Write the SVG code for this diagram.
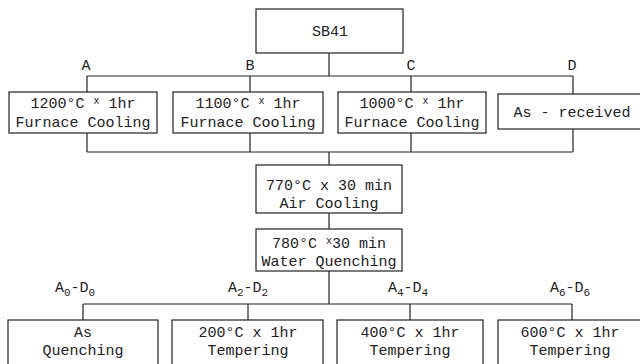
<svg xmlns="http://www.w3.org/2000/svg" width="640" height="364" viewBox="0 0 640 364">
<style>
.box{fill:#fff;stroke:#222;stroke-width:1.2}
.ln{fill:none;stroke:#222;stroke-width:1.2}
text{font-family:"Liberation Mono","DejaVu Sans Mono",monospace;font-size:15px;fill:#222;text-anchor:middle}
.sup{font-size:10px}
.sub{font-size:11px}
</style>
<rect width="640" height="364" fill="#fff"/>
<g id="connectors">
<path class="ln" d="M329 53V76M87 76H573M87 76V92M250 76V92M411 76V92M573 76V94"/>
<path class="ln" d="M87 133V152M250 133V152M411 133V152M573 129V152M87 152H573M329 152V165"/>
<path class="ln" d="M329 213V229"/>
<path class="ln" d="M329 271V304M83 304H572M83 304V320M248 304V320M410 304V320M572 304V320"/>
</g>
<g id="labels">
<text x="86" y="70">A</text>
<text x="250" y="70">B</text>
<text x="411" y="70">C</text>
<text x="572" y="70">D</text>
<text x="75" y="292">A<tspan class="sub" dy="4">0</tspan><tspan dy="-4">-D</tspan><tspan class="sub" dy="4">0</tspan></text>
<text x="248" y="292">A<tspan class="sub" dy="4">2</tspan><tspan dy="-4">-D</tspan><tspan class="sub" dy="4">2</tspan></text>
<text x="408" y="292">A<tspan class="sub" dy="4">4</tspan><tspan dy="-4">-D</tspan><tspan class="sub" dy="4">4</tspan></text>
<text x="570" y="292">A<tspan class="sub" dy="4">6</tspan><tspan dy="-4">-D</tspan><tspan class="sub" dy="4">6</tspan></text>
</g>
<g id="sb41">
<rect class="box" x="256" y="9" width="147" height="44"/>
<text x="330" y="36">SB41</text>
</g>
<g id="nodeA">
<rect class="box" x="9" y="92" width="148" height="41"/>
<text x="83" y="108">1200°C <tspan class="sup" dy="-4">x</tspan><tspan dy="4"> 1hr</tspan></text>
<text x="83" y="127">Furnace Cooling</text>
</g>
<g id="nodeB">
<rect class="box" x="173" y="92" width="150" height="41"/>
<text x="248" y="108">1100°C <tspan class="sup" dy="-4">x</tspan><tspan dy="4"> 1hr</tspan></text>
<text x="248" y="127">Furnace Cooling</text>
</g>
<g id="nodeC">
<rect class="box" x="338" y="92" width="148" height="41"/>
<text x="412" y="108">1000°C <tspan class="sup" dy="-4">x</tspan><tspan dy="4"> 1hr</tspan></text>
<text x="412" y="127">Furnace Cooling</text>
</g>
<g id="nodeD">
<rect class="box" x="498" y="94" width="150" height="35"/>
<text x="572" y="117">As - received</text>
</g>
<g id="air">
<rect class="box" x="256" y="165" width="146" height="48"/>
<text x="329" y="190">770°C x 30 min</text>
<text x="329" y="208">Air Cooling</text>
</g>
<g id="water">
<rect class="box" x="256" y="229" width="146" height="42"/>
<text x="329" y="248">780°C <tspan class="sup" dy="-4">x</tspan><tspan dy="4">30 min</tspan></text>
<text x="329" y="266">Water Quenching</text>
</g>
<g id="q0">
<rect class="box" x="8" y="320" width="150" height="60"/>
<text x="83" y="337">As</text>
<text x="83" y="355">Quenching</text>
</g>
<g id="t2">
<rect class="box" x="172" y="320" width="151" height="60"/>
<text x="248" y="337">200°C x 1hr</text>
<text x="248" y="355">Tempering</text>
</g>
<g id="t4">
<rect class="box" x="337" y="320" width="146" height="60"/>
<text x="410" y="337">400°C x 1hr</text>
<text x="410" y="355">Tempering</text>
</g>
<g id="t6">
<rect class="box" x="498" y="320" width="150" height="60"/>
<text x="570" y="337">600°C x 1hr</text>
<text x="570" y="355">Tempering</text>
</g>
</svg>
